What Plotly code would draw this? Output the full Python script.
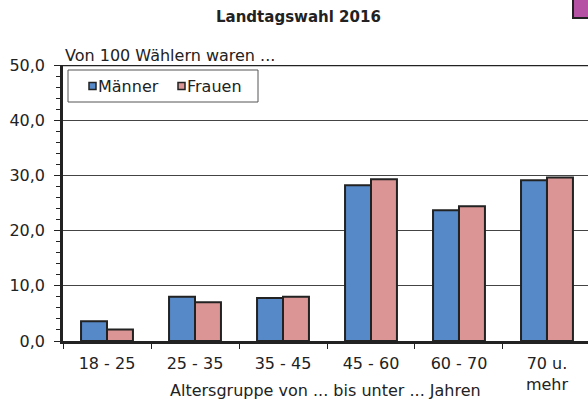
import plotly.graph_objects as go

categories = ["18 - 25", "25 - 35", "35 - 45", "45 - 60", "60 - 70", "70 u.<br>mehr"]
maenner = [3.6, 8.0, 7.8, 28.2, 23.7, 29.1]
frauen = [2.1, 7.0, 8.0, 29.3, 24.4, 29.6]
series_names = ["Männer", "Frauen"]
colors = ["#5689C8", "#DA9594"]

W, H = 588, 403
L, R, T, B = 63, 0, 65, 62
pw = W - L - R
ph = H - T - B

FONT = "DejaVu Sans, Liberation Sans, Arial, sans-serif"
TXT = "#222222"

fig = go.Figure()
for name, vals, col in zip(series_names, [maenner, frauen], colors):
    fig.add_trace(go.Bar(
        x=categories, y=vals, name=name,
        marker=dict(color=col, line=dict(color="#222222", width=2)),
        showlegend=False,
    ))

def px_x(p):
    return (p - L) / pw

def px_y(p):
    return 1 - (p - T) / ph

shapes = []
annotations = []

# manual legend box
shapes.append(dict(type="rect", xref="paper", yref="paper",
                   x0=px_x(68), x1=px_x(258), y0=px_y(102), y1=px_y(70),
                   line=dict(color="#555555", width=1), fillcolor="white", layer="above"))
legend_items = [(89, series_names[0], colors[0]), (178, series_names[1], colors[1])]
for x0, name, col in legend_items:
    shapes.append(dict(type="rect", xref="paper", yref="paper",
                       x0=px_x(x0), x1=px_x(x0 + 7), y0=px_y(89.5), y1=px_y(82.5),
                       line=dict(color="#222222", width=1.5), fillcolor=col, layer="above"))
    annotations.append(dict(text=name, xref="paper", yref="paper",
                            x=px_x(x0 + 7), y=px_y(86), xanchor="left", yanchor="middle",
                            showarrow=False, font=dict(size=16, color=TXT, family=FONT)))

# magenta box fragment top right
shapes.append(dict(type="rect", xref="paper", yref="paper",
                   x0=px_x(573), x1=px_x(592), y0=px_y(18), y1=px_y(-3),
                   line=dict(color="#222222", width=2), fillcolor="#B652A3", layer="above"))

# top border line
shapes.append(dict(type="line", xref="paper", yref="y", x0=0, x1=1, y0=50, y1=50,
                   line=dict(color="#222222", width=2.5)))

annotations.append(dict(text="<b>Landtagswahl 2016</b>", xref="paper", yref="paper",
                        x=px_x(298), y=px_y(17), xanchor="center", yanchor="middle",
                        showarrow=False, font=dict(size=15, color=TXT, family=FONT)))
annotations.append(dict(text="Von 100 Wählern waren ...", xref="paper", yref="paper",
                        x=0, y=px_y(55), xanchor="left", yanchor="middle",
                        showarrow=False, font=dict(size=16, color=TXT, family=FONT)))
annotations.append(dict(text="Altersgruppe von ... bis unter ... Jahren", xref="paper", yref="paper",
                        x=0.5, y=px_y(390), xanchor="center", yanchor="middle",
                        showarrow=False, font=dict(size=16, color=TXT, family=FONT)))

fig.update_layout(
    width=W, height=H,
    margin=dict(l=L, r=R, t=T, b=B, pad=0),
    paper_bgcolor="white", plot_bgcolor="white",
    barmode="group", bargap=0.41, bargroupgap=0,
    separators=",.",
    font=dict(family=FONT, size=16, color=TXT),
    shapes=shapes, annotations=annotations,
    showlegend=False,
    xaxis=dict(
        range=[-0.5, 5.466], tickson="boundaries",
        ticks="outside", ticklen=5, tickwidth=1, tickcolor="#222222",
        showline=True, linecolor="#222222", linewidth=2.5,
        showgrid=False, tickfont=dict(size=16, color=TXT),
        ticklabelstandoff=6, automargin=False,
        fixedrange=True,
    ),
    yaxis=dict(
        range=[0, 50], dtick=10, tickformat=".1f",
        ticks="outside", ticklen=6, tickwidth=1, tickcolor="#222222",
        minor=dict(dtick=2, ticks="outside", ticklen=4, tickwidth=1, tickcolor="#222222", showgrid=False),
        showline=True, linecolor="#222222", linewidth=2.5,
        showgrid=True, gridcolor="#444444", gridwidth=1,
        zeroline=False, tickfont=dict(size=16, color=TXT),
        ticklabelstandoff=6, automargin=False,
        fixedrange=True,
    ),
)

fig.write_html("out.html", config={"displayModeBar": False},
               post_script="document.body.style.margin='0px';document.body.style.overflow='hidden';")
